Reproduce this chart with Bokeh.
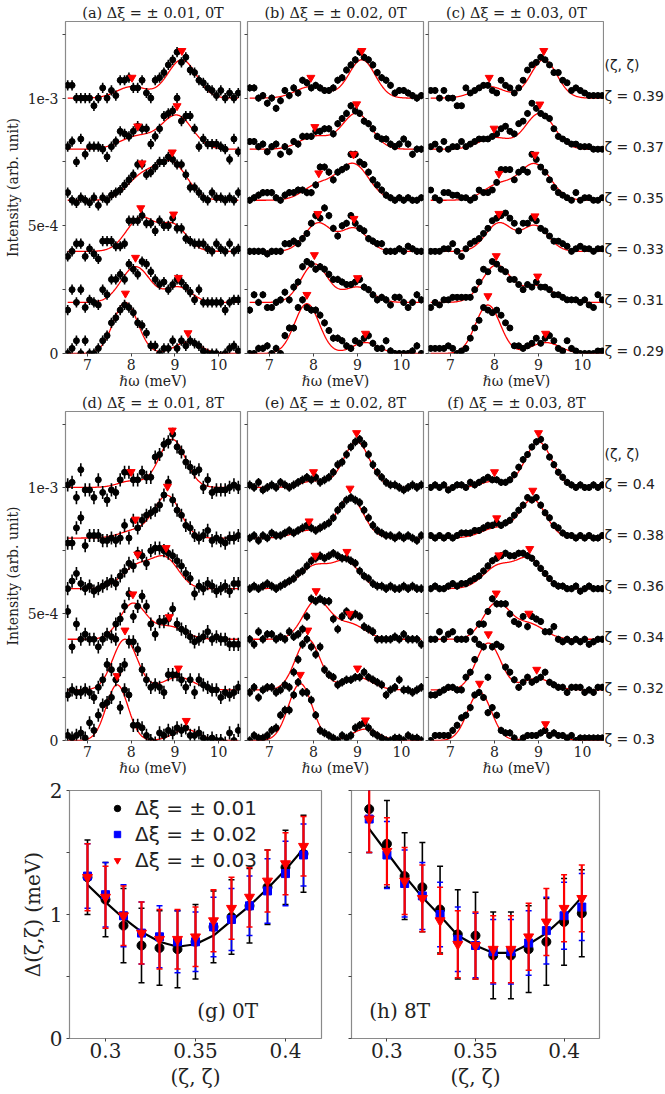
import numpy as np
from bokeh.plotting import figure
from bokeh.layouts import column, row
from bokeh.models import Range1d, FixedTicker, Label
from bokeh.core.properties import value
from bokeh.embed import file_html
from bokeh.resources import INLINE

# ---------------- data: stacked spectra (intensity in units of 1e-5) ----------------
energy = [6.55, 6.65, 6.75, 6.85, 6.95, 7.05, 7.15, 7.25, 7.35, 7.45,
          7.55, 7.65, 7.75, 7.85, 7.95, 8.05, 8.15, 8.25, 8.35, 8.45,
          8.55, 8.65, 8.75, 8.85, 8.95, 9.05, 9.15, 9.25, 9.35, 9.45,
          9.55, 9.65, 9.75, 9.85, 9.95, 10.05, 10.15, 10.25, 10.35, 10.45]

zeta_0T = [0.29, 0.31, 0.33, 0.35, 0.37, 0.39]
zeta_8T = [0.30, 0.32, 0.34, 0.36, 0.38, 0.40]

# (a) dxi = 0.01, 0T
a29 = [0,2,5,0,5,0,0,2,5,7, 12,14,17,19,18,16,12,11,8,3, 3,0,2,2,5,2,5,3,5,4, 3,1,0,0,0,-1,0,2,3,1]
a31 = [-3,5,0,5,-2,1,0,-1,5,3, 9,9,11,9,15,13,11,16,15,12, 9,7,8,5,7,9,8,6,4,1, 5,0,0,0,0,0,-3,0,1,1]
a33 = [-2,0,3,3,-2,1,-1,-3,4,4, 4,2,2,3,12,12,12,14,11,11, 8,12,10,10,13,9,9,5,4,3, 3,3,1,0,3,1,0,3,0,1]
a35 = [3,0,-1,1,0,-1,1,-2,1,0, 2,3,4,6,8,10,14,14,10,11, 13,15,15,17,16,14,14,10,5,5, 3,1,0,3,1,1,0,1,0,3]
a37 = [1,3,-5,4,-2,1,1,1,0,-3, 1,3,7,6,5,7,9,8,8,2, 5,8,13,14,15,20,11,13,13,8, 1,4,2,2,2,1,0,-4,4,-1]
a39 = [5,5,0,0,0,0,-3,0,4,0, 3,1,7,7,8,4,4,7,2,0, 7,8,10,13,15,18,14,16,11,10, 7,6,4,3,1,3,0,2,0,2]
# (b) dxi = 0.02, 0T
b29 = [0,0,2,2,3,0,2,0,7,10, 10,18,21,18,17,17,15,12,9,6, 6,5,3,2,5,4,6,7,4,2, 2,5,1,0,0,0,0,1,3,0]
b31 = [-3,3,0,3,-2,-2,0,1,4,1, 6,8,14,16,15,13,14,13,11,9, 9,8,7,7,8,9,6,5,3,1, 2,1,-1,2,2,0,-2,0,3,1]
b33 = [0,0,0,0,-1,0,0,0,3,3, 4,3,5,7,11,14,13,17,14,9, 6,10,11,14,11,9,8,5,4,3, 3,0,0,0,1,0,2,1,0,0]
b35 = [0,1,2,3,3,3,1,0,2,3, 3,4,4,3,3,6,13,13,11,8, 11,12,13,18,18,15,14,11,8,6, 4,2,1,0,1,0,1,0,0,1]
b37 = [3,3,1,2,-1,1,2,-2,1,-1, 3,2,5,5,5,7,7,8,8,6, 10,12,14,17,15,14,11,10,8,5, 4,4,2,1,2,4,2,-2,0,0]
b39 = [4,4,0,1,-2,0,-4,-1,3,1, 4,2,7,6,4,5,4,3,3,4, 7,8,11,13,15,18,16,15,13,10, 8,7,5,2,3,3,2,1,0,1]
# (c) dxi = 0.03, 0T
c29 = [2,2,2,2,3,2,0,1,2,6, 10,13,18,17,16,17,15,12,10,3, 3,2,3,4,6,4,6,7,5,2, 1,5,2,1,0,0,0,0,1,1]
c31 = [-2,0,-1,1,1,2,2,2,2,2, 5,8,13,12,16,15,13,12,9,9, 7,5,7,6,8,6,6,5,3,3, 2,1,1,1,0,1,-1,-2,3,1]
c33 = [0,0,0,1,1,3,0,-2,1,3, 4,5,7,9,12,13,14,15,13,11, 8,11,11,13,12,9,8,6,4,4, 3,2,0,1,2,1,1,0,1,1]
c35 = [4,1,0,3,3,2,2,1,1,0, 1,4,3,3,4,7,12,12,12,8, 11,12,11,18,16,13,11,8,5,3, 2,1,0,3,0,1,1,0,0,1]
c37 = [1,2,0,3,0,1,1,3,1,2, 3,4,4,4,5,6,8,9,7,6, 10,11,14,18,16,14,13,12,8,5, 4,3,2,2,1,1,1,0,0,0]
c39 = [3,3,0,3,0,0,-3,-3,4,2, 3,4,5,5,3,2,7,5,4,2, 4,7,11,13,14,16,15,13,10,10, 7,6,3,4,3,2,1,1,1,1]
# (d) dxi = 0.01, 8T
d30 = [2,1,2,3,1,7,4,10,14,15, 17,24,13,20,18,6,6,5,2,0, -1,3,2,4,3,5,4,5,2,2, 3,1,0,1,0,0,-1,3,0,4]
d32 = [-2,0,-1,-1,0,-1,-3,1,4,10, 8,20,8,10,19,19,16,8,4,1, 2,1,-1,6,6,6,4,1,4,-1, 4,2,1,0,0,-3,-1,-2,-1,1]
d34 = [11,-3,6,0,2,0,0,-3,0,2, 1,6,8,13,18,9,13,17,13,6, 2,7,7,8,12,6,4,3,1,-1, 0,1,3,0,1,0,0,-2,-2,-2]
d36 = [0,3,6,2,0,1,-1,0,1,2, 3,2,5,7,10,9,14,13,10,15, 16,16,15,14,13,11,9,6,4,-2, 1,0,2,1,-1,0,1,-1,2,2]
d38 = [-2,-2,4,8,-3,1,1,1,-1,-1, 0,-1,0,5,0,7,4,7,9,10, 11,13,17,22,15,11,9,5,4,1, 0,1,3,-1,0,-1,-2,0,0,1]
d40 = [1,2,-4,7,-1,-1,-4,3,-2,-5, -1,-2,3,6,6,3,3,6,4,4, 12,13,17,18,21,16,14,10,8,6, 7,0,3,-2,-1,-1,-1,0,1,0]
# (e) dxi = 0.02, 8T
e30 = [0,2,1,1,2,4,5,10,12,12, 18,23,19,19,16,10,4,3,2,1, 0,2,1,2,5,6,7,5,3,2, 1,0,0,1,1,0,2,1,1,0]
e32 = [-1,1,-3,0,1,1,-1,0,2,1, 7,12,18,20,17,14,17,8,6,5, 2,3,4,4,5,5,7,5,4,3, 2,-2,0,1,4,0,0,-1,0,1]
e34 = [0,-2,3,0,2,2,0,1,0,3, 1,2,4,9,16,15,16,15,15,8, 4,9,11,9,10,9,5,4,3,0, 0,0,0,1,0,2,0,0,0,-2]
e36 = [0,1,0,1,2,1,0,1,2,3, 4,6,7,9,11,12,13,12,13,14, 13,12,12,11,10,7,5,4,2,1, 1,0,1,0,0,1,0,1,0,0]
e38 = [0,1,-1,1,0,2,1,1,2,3, 2,3,4,5,4,3,4,5,6,8, 11,13,15,16,15,14,11,8,5,3, 2,1,1,0,1,0,1,0,-1,1]
e40 = [1,0,2,-1,0,1,0,2,1,0, 1,2,3,4,3,4,2,3,4,6, 9,10,13,16,18,19,17,13,9,6, 4,2,1,1,0,-1,0,1,0,1]
# (f) dxi = 0.03, 8T
f30 = [0,2,2,2,2,4,6,9,10,13, 18,19,17,11,13,10,4,3,3,1, -1,1,2,2,2,3,4,2,3,2, 2,1,2,0,1,1,1,1,1,1]
f32 = [-2,-2,-1,0,1,1,0,0,5,7, 12,18,17,5,17,18,17,9,7,4, 1,3,5,3,4,5,7,3,2,1, 1,-1,1,1,1,-1,0,-1,1,1]
f34 = [0,0,3,0,2,3,0,0,0,3, 0,6,6,11,16,14,14,14,10,7, 6,9,5,9,8,7,3,3,5,0, -1,0,-1,0,-1,0,-2,-1,0,0]
f36 = [0,1,0,0,1,2,1,2,2,3, 4,5,7,9,11,12,13,14,13,13, 14,14,13,12,10,8,6,4,2,1, 1,0,0,1,-1,0,1,0,0,0]
f38 = [1,0,1,0,1,0,1,2,2,2, 3,3,4,5,5,6,5,6,7,9, 11,13,16,15,16,13,10,8,5,4, 2,1,1,0,1,0,1,0,0,1]
f40 = [0,1,0,1,-1,0,1,1,0,2, 1,2,3,4,3,3,2,2,3,5, 8,11,13,16,18,19,16,12,9,6, 4,2,1,0,1,0,0,1,0,1]

# error bar half-heights per panel (units 1e-5)
err_a, err_b, err_c = 2.0, 1.4, 1.2
err_d, err_e, err_f = 2.6, 1.7, 1.4

# two-Gaussian fit parameters per trace (low zeta -> high zeta)
fit_a = dict(c1=[7.87, 8.10, 8.22, 8.25, 8.15, 8.02], a1=[20, 14, 13, 9, 5, 4.5], s1=[0.28, 0.33, 0.33, 0.35, 0.40, 0.35],
             c2=[9.30, 9.08, 8.97, 8.94, 9.05, 9.16], a2=[4.5, 6, 10, 14, 13, 15], s2=[0.30, 0.30, 0.30, 0.35, 0.35, 0.33])
fit_b = dict(c1=[7.85, 8.02, 8.10, 8.12, 8.03, 7.94], a1=[19.5, 15, 11, 6, 5, 4.5], s1=[0.28, 0.30, 0.30, 0.35, 0.35, 0.35],
             c2=[9.18, 9.00, 8.92, 8.91, 8.98, 9.10], a2=[4.3, 6, 9, 14, 14, 15], s2=[0.30, 0.33, 0.30, 0.35, 0.33, 0.30])
fit_c = dict(c1=[7.85, 8.04, 8.10, 8.10, 7.99, 7.88], a1=[19, 14.5, 11, 6, 4.5, 4.5], s1=[0.28, 0.32, 0.30, 0.35, 0.35, 0.35],
             c2=[9.16, 8.98, 8.92, 8.92, 9.03, 9.12], a2=[4.3, 6.5, 10, 14, 14, 15], s2=[0.33, 0.35, 0.30, 0.35, 0.33, 0.30])
fit_d = dict(c1=[7.68, 7.86, 8.04, 8.15, 8.10, 8.00], a1=[22, 20, 14, 9, 3, 2.5], s1=[0.25, 0.28, 0.30, 0.35, 0.35, 0.30],
             c2=[9.26, 9.08, 8.87, 8.80, 8.83, 8.94], a2=[4.3, 5, 5, 11, 16.5, 19], s2=[0.30, 0.35, 0.35, 0.30, 0.30, 0.30])
fit_e = dict(c1=[7.70, 7.87, 8.06, 8.04, 7.90, 8.00], a1=[22.5, 20, 15, 9, 3, 2.5], s1=[0.27, 0.28, 0.30, 0.35, 0.35, 0.30],
             c2=[9.18, 9.00, 8.82, 8.76, 8.83, 8.98], a2=[4.5, 5, 6, 10, 16, 18], s2=[0.30, 0.33, 0.35, 0.30, 0.30, 0.30])
fit_f = dict(c1=[7.66, 7.86, 8.04, 8.10, 8.05, 8.00], a1=[19, 18.5, 14, 9, 4, 2.5], s1=[0.27, 0.28, 0.30, 0.35, 0.35, 0.30],
             c2=[9.16, 8.96, 8.78, 8.80, 8.87, 9.00], a2=[3, 4.5, 6, 11, 15, 18], s2=[0.30, 0.33, 0.35, 0.30, 0.30, 0.30])

# ---------------- data: gap vs (zeta, zeta) ----------------
zeta_gap = [0.29, 0.30, 0.31, 0.32, 0.33, 0.34, 0.35, 0.36, 0.37, 0.38, 0.39, 0.40, 0.41]
g0T_01 = [1.30, 1.12, 0.91, 0.75, 0.73, 0.72, 0.78, 0.90, 0.98, 1.07, 1.22, 1.38, 1.49]
g0T_01_err = [0.30, 0.30, 0.30, 0.30, 0.30, 0.31, 0.30, 0.29, 0.30, 0.30, 0.30, 0.30, 0.31]
g0T_02 = [1.31, 1.16, 0.99, 0.85, 0.82, 0.78, 0.78, 0.90, 0.96, 1.07, 1.19, 1.33, 1.48]
g0T_02_err = [0.26, 0.26, 0.25, 0.25, 0.25, 0.25, 0.24, 0.24, 0.25, 0.24, 0.26, 0.26, 0.25]
g0T_03 = [1.30, 1.14, 0.99, 0.85, 0.80, 0.80, 0.82, 0.95, 1.05, 1.14, 1.27, 1.41, 1.55]
g0T_03_err = [0.27, 0.25, 0.24, 0.25, 0.24, 0.24, 0.24, 0.25, 0.25, 0.24, 0.25, 0.25, 0.24]
g0T_model = [1.24, 1.10, 0.97, 0.86, 0.78, 0.74, 0.76, 0.83, 0.95, 1.07, 1.21, 1.36, 1.53]

g8T_01 = [1.85, 1.57, 1.31, 1.22, 1.04, 0.84, 0.83, 0.67, 0.67, 0.72, 0.78, 0.94, 1.01]
g8T_01_err = [0.35, 0.35, 0.35, 0.36, 0.35, 0.36, 0.35, 0.35, 0.35, 0.35, 0.35, 0.35, 0.35]
g8T_02 = [1.77, 1.48, 1.25, 1.15, 1.00, 0.80, 0.75, 0.70, 0.70, 0.77, 0.87, 0.99, 1.06]
g8T_02_err = [0.27, 0.27, 0.27, 0.27, 0.26, 0.26, 0.26, 0.26, 0.26, 0.26, 0.27, 0.27, 0.27]
g8T_03 = [1.77, 1.51, 1.27, 1.13, 0.95, 0.76, 0.75, 0.72, 0.72, 0.82, 0.94, 1.05, 1.13]
g8T_03_err = [0.27, 0.27, 0.27, 0.27, 0.27, 0.27, 0.27, 0.27, 0.27, 0.27, 0.27, 0.27, 0.27]
g8T_model = [1.69, 1.50, 1.31, 1.14, 0.99, 0.83, 0.75, 0.69, 0.69, 0.76, 0.85, 0.98, 1.14]

# ---------------- styling ----------------
SERIF = "DejaVu Serif"
SANS = "DejaVu Sans"
FRAME = "#8a8a8a"
TICK = "#444444"
OFFSET = 20      # vertical shift between stacked spectra (1e-5 units)
TRI_LIFT = 3.5   # red markers sit slightly above the fit
YMAX = 130


def gauss(x, c, a, s):
    return a * np.exp(-(np.asarray(x) - c) ** 2 / (2.0 * s ** 2))


def style(p, tick_size, label_size):
    p.grid.visible = False
    p.outline_line_color = FRAME
    p.outline_line_width = 1.2
    p.background_fill_color = "white"
    p.border_fill_color = "white"
    for ax in p.axis:
        ax.axis_line_color = None
        ax.major_tick_line_color = TICK
        ax.minor_tick_line_color = TICK
        ax.major_tick_in = 0
        ax.major_tick_out = 3
        ax.minor_tick_in = 0
        ax.minor_tick_out = 3
        ax.major_label_text_font = SERIF
        ax.major_label_text_font_size = tick_size
        ax.major_label_text_color = "#222222"
        ax.axis_label_text_font = SERIF
        ax.axis_label_text_font_size = label_size
        ax.axis_label_text_font_style = "normal"
        ax.axis_label_text_color = "#222222"


def spectra_panel(title, traces, fit, err, w, h, bl, br, bt, bb, show_ylab):
    p = figure(width=w, height=h, x_range=Range1d(6.5, 10.5), y_range=Range1d(0, YMAX),
               output_backend="svg", toolbar_location=None, title=title,
               min_border_left=bl, min_border_right=br, min_border_top=bt, min_border_bottom=bb)
    style(p, "14px", "14px")
    p.title.text_font = SERIF
    p.title.text_font_size = "14.5px"
    p.title.text_font_style = "normal"
    p.title.align = "center"
    p.title.standoff = 1
    p.title.text_color = "#222222"

    p.xaxis.ticker = FixedTicker(ticks=[7, 8, 9, 10])
    p.xaxis.axis_label = "ℏω (meV)"
    p.xaxis.major_label_standoff = 2
    p.xaxis.axis_label_standoff = 0
    p.yaxis.ticker = FixedTicker(ticks=[0, 50, 100], minor_ticks=[25, 75, 125])
    if show_ylab:
        p.yaxis.major_label_overrides = {0: "0", 50: "5e-4", 100: "1e-3"}
        p.yaxis.axis_label = "Intensity (arb. unit)"
        p.yaxis.major_label_standoff = 4
        p.yaxis.axis_label_standoff = 4
    else:
        p.yaxis.major_label_overrides = {0: "", 50: "", 100: ""}
        p.yaxis.major_label_standoff = 0

    xs = np.linspace(6.55, 10.45, 300)
    for k, trace in enumerate(traces):
        base = k * OFFSET
        c1, a1, s1 = fit["c1"][k], fit["a1"][k], fit["s1"][k]
        c2, a2, s2 = fit["c2"][k], fit["a2"][k], fit["s2"][k]
        curve = base + gauss(xs, c1, a1, s1) + gauss(xs, c2, a2, s2)
        p.line(xs, curve, color="red", line_width=1.3)
        y = base + np.asarray(trace, dtype=float)
        p.segment(energy, y - err, energy, y + err, color="black", line_width=1.6)
        p.scatter(energy, y, size=6, color="black")
        tx = np.array([c1, c2])
        ty = base + gauss(tx, c1, a1, s1) + gauss(tx, c2, a2, s2) + TRI_LIFT
        p.scatter(tx, ty, marker="inverted_triangle", size=8, color="red")
    return p


def zeta_labels(zetas, w, h, bt, bb):
    """Narrow strip right of panels (c)/(f) carrying the zeta of each trace.
    Its frame runs down to the bottom edge so the lowest label is not clipped;
    the y scale is kept identical to the neighbouring panel."""
    ext = bb * YMAX / (h - bt - bb)
    p = figure(width=w, height=h, x_range=Range1d(0, 1), y_range=Range1d(-ext, YMAX),
               output_backend="svg", toolbar_location=None,
               x_axis_location=None, y_axis_location=None,
               min_border_left=0, min_border_right=0, min_border_top=bt, min_border_bottom=0)
    if "frame_align" in p.properties():
        p.frame_align = False
    p.grid.visible = False
    p.outline_line_color = None
    bases = [k * OFFSET for k in range(len(zetas))]
    p.text(x=[0.0] * len(zetas), y=[b + 1 for b in bases], text=[f"ζ = {z:g}" for z in zetas],
           text_baseline="middle", text_font=value(SANS), text_font_size="14px", text_color="#222222")
    p.text(x=[0.0], y=[bases[-1] + 13], text=["(ζ, ζ)"], text_baseline="middle",
           text_font=value(SANS), text_font_size="14px", text_color="#222222")
    return p


H1, H2, H3 = 392, 386, 316
pa = spectra_panel("(a) Δξ = ± 0.01, 0T", [a29, a31, a33, a35, a37, a39], fit_a, err_a, 243, H1, 65, 3, 21, 39, True)
pb = spectra_panel("(b) Δξ = ± 0.02, 0T", [b29, b31, b33, b35, b37, b39], fit_b, err_b, 182, H1, 4, 2, 21, 39, False)
pc = spectra_panel("(c) Δξ = ± 0.03, 0T", [c29, c31, c33, c35, c37, c39], fit_c, err_c, 179, H1, 3, 0, 21, 39, False)
lc = zeta_labels(zeta_0T, 61, H1, 21, 39)
pd = spectra_panel("(d) Δξ = ± 0.01, 8T", [d30, d32, d34, d36, d38, d40], fit_d, err_d, 243, H2, 65, 3, 18, 37, True)
pe = spectra_panel("(e) Δξ = ± 0.02, 8T", [e30, e32, e34, e36, e38, e40], fit_e, err_e, 182, H2, 4, 2, 18, 37, False)
pf = spectra_panel("(f) Δξ = ± 0.03, 8T", [f30, f32, f34, f36, f38, f40], fit_f, err_f, 179, H2, 3, 0, 18, 37, False)
lf = zeta_labels(zeta_8T, 61, H2, 18, 37)


def gap_panel(tag, series, model, w, bl, br, show_ylab, legend):
    p = figure(width=w, height=H3, x_range=Range1d(0.28, 0.42), y_range=Range1d(0, 2),
               output_backend="svg", toolbar_location=None,
               min_border_left=bl, min_border_right=br, min_border_top=12, min_border_bottom=56)
    style(p, "20px", "20px")
    p.xaxis.ticker = FixedTicker(ticks=[0.3, 0.35, 0.4])
    p.xaxis.major_label_overrides = {0.3: "0.3", 0.35: "0.35", 0.4: "0.4"}
    p.xaxis.axis_label = "(ζ, ζ)"
    p.xaxis.major_label_standoff = 1
    p.xaxis.axis_label_standoff = 4
    p.yaxis.ticker = FixedTicker(ticks=[0, 1, 2], minor_ticks=[0.5, 1.5])
    if show_ylab:
        p.yaxis.axis_label = "Δ(ζ,ζ) (meV)"
        p.yaxis.major_label_standoff = 4
        p.yaxis.axis_label_standoff = 2
    else:
        p.yaxis.major_label_overrides = {0: "", 1: "", 2: ""}
        p.yaxis.major_label_standoff = 0

    p.line(zeta_gap, model, color="black", line_width=2.2)
    for vals, errs, color, marker, size, lw, lab in series:
        v = np.asarray(vals)
        e = np.asarray(errs)
        p.segment(zeta_gap, v - e, zeta_gap, v + e, color=color, line_width=lw)
        p.scatter(zeta_gap, v - e, marker="dash", size=6, line_color=color, line_width=1.5)
        p.scatter(zeta_gap, v + e, marker="dash", size=6, line_color=color, line_width=1.5)
        kw = dict(legend_label=lab) if legend else {}
        p.scatter(zeta_gap, v, marker=marker, size=size, color=color, **kw)
    p.add_layout(Label(x=tag[1], y=0.22, text=tag[0], text_baseline="middle",
                       text_font=SERIF, text_font_size="20px", text_color="#222222"))
    if legend:
        lg = p.legend[0]
        lg.location = (40, 166)
        lg.label_text_font = SANS
        lg.label_text_font_size = "20px"
        lg.label_text_color = "#222222"
        lg.glyph_width = 16
        lg.glyph_height = 20
        lg.label_height = 20
        lg.spacing = 2
        lg.padding = 0
        lg.margin = 0
        lg.label_standoff = 10
        lg.border_line_color = None
        lg.background_fill_alpha = 0
    return p


pg = gap_panel(("(g) 0T", 0.351),
               [(g0T_01, g0T_01_err, "black", "circle", 9, 1.6, "Δξ = ± 0.01"),
                (g0T_02, g0T_02_err, "blue", "square", 8, 1.6, "Δξ = ± 0.02"),
                (g0T_03, g0T_03_err, "red", "inverted_triangle", 10, 2.2, "Δξ = ± 0.03")],
               g0T_model, 335, 69, 14, True, True)
ph = gap_panel(("(h) 8T", 0.290),
               [(g8T_01, g8T_01_err, "black", "circle", 9, 1.6, ""),
                (g8T_02, g8T_02_err, "blue", "square", 8, 1.6, ""),
                (g8T_03, g8T_03_err, "red", "inverted_triangle", 10, 2.2, "")],
               g8T_model, 330, 16, 66, False, False)

layout = column(row(pa, pb, pc, lc), row(pd, pe, pf, lf), row(pg, ph))
open("out.html", "w").write(file_html(layout, INLINE))
